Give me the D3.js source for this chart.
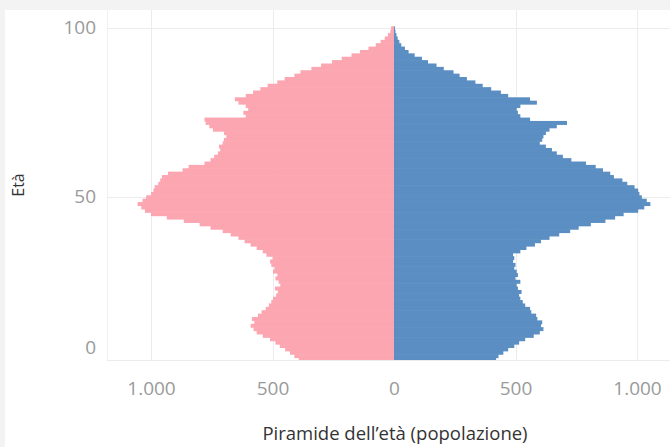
<!DOCTYPE html>
<html>
<head>
<meta charset="utf-8">
<script src="https://cdn.jsdelivr.net/npm/d3@7"></script>
<style>
  html, body { margin: 0; padding: 0; background: #f3f3f3; }
  svg { display: block; }
</style>
</head>
<body>
<svg id="chart" width="670" height="447"></svg>
<script>
// Ages 0..100
const ages = d3.range(0, 101);
// Women (left, pink)
const femmine = [
  372, 380, 392, 410, 428, 448, 470, 488, 510, 540,
  565, 578, 590, 575, 585, 560, 545, 528, 515, 505,
  498, 485, 478, 490, 468, 475, 488, 480, 498, 492,
  505, 510, 500, 525, 540, 565, 590, 615, 640, 672,
  705, 755, 800, 865, 935, 1000, 1025, 1040, 1055, 1035,
  1020, 1000, 990, 985, 970, 962, 955, 930, 870, 845,
  780, 755, 740, 725, 715, 720, 705, 700, 690, 700,
  745, 760, 775, 780, 610, 620, 600, 610, 640, 655,
  610, 580, 550, 520, 480, 450, 410, 385, 340, 300,
  255, 215, 175, 140, 105, 75, 55, 38, 25, 15,
  12
];
// Men (right, blue)
const maschi = [
  395, 405, 420, 430, 450, 470, 495, 515, 540, 575,
  600, 615, 605, 610, 590, 585, 565, 560, 540, 530,
  520, 515, 525, 510, 505, 520, 500, 510, 505, 495,
  500, 490, 495, 490, 520, 545, 580, 605, 640, 680,
  725, 760, 810, 870, 910, 945, 1005, 1030, 1055, 1040,
  1020, 1010, 1005, 990, 960, 940, 905, 890, 860, 830,
  790, 730, 695, 670, 650, 625, 600, 610, 615, 625,
  640, 670, 712, 560, 520, 510, 505, 520, 588, 560,
  470, 440, 400, 365, 335, 300, 270, 245, 205, 175,
  140, 115, 85, 60, 45, 30, 22, 15, 10, 6,
  4
];
const xTicks = [-1000, -500, 0, 500, 1000];
const yTicks = [0, 50, 100];
const xTitle = "Piramide dell’età (popolazione)";
const yTitle = "Età";

const svg = d3.select("#chart");
const W = 670, H = 447;
const pane = { left: 107, right: 670, top: 10, bottom: 360 };

// white panel
svg.append("rect").attr("x", 5).attr("y", 10).attr("width", W - 5).attr("height", H - 10).attr("fill", "#ffffff");

const x = d3.scaleLinear().domain([-1000, 1000]).range([151, 637]);
const y = d3.scaleLinear().domain([0, 100]).range([366, 28]);

const it = d3.formatLocale({ decimal: ",", thousands: ".", grouping: [3], currency: ["€", ""] });
const fmt = it.format(",d");

svg.append("defs").append("clipPath").attr("id", "pane")
  .append("rect").attr("x", pane.left).attr("y", pane.top)
  .attr("width", pane.right - pane.left).attr("height", pane.bottom - pane.top);

// gridlines
const grid = svg.append("g").attr("clip-path", "url(#pane)");
grid.selectAll("line.h").data(yTicks).join("line")
  .attr("x1", pane.left).attr("x2", pane.right)
  .attr("y1", d => Math.round(y(d)) + 0.5).attr("y2", d => Math.round(y(d)) + 0.5)
  .attr("stroke", "#ececec").attr("stroke-width", 1);
svg.selectAll("line.v").data(xTicks.filter(d => d !== 0)).join("line")
  .attr("x1", d => Math.round(x(d)) + 0.5).attr("x2", d => Math.round(x(d)) + 0.5)
  .attr("y1", pane.top).attr("y2", pane.bottom)
  .attr("stroke", "#ececec").attr("stroke-width", 1);
// pane left border
svg.append("line").attr("x1", pane.left + 0.5).attr("x2", pane.left + 0.5)
  .attr("y1", pane.top).attr("y2", pane.bottom).attr("stroke", "#f0f0f0");

// bars
const bars = svg.append("g").attr("clip-path", "url(#pane)");
const bandTop = a => y(a + 0.5);
const bandH = a => y(a - 0.5) - y(a + 0.5) + 0.6;
bars.selectAll("rect.f").data(ages).join("rect")
  .attr("x", a => x(-femmine[a]))
  .attr("width", a => x(0) - x(-femmine[a]))
  .attr("y", bandTop).attr("height", bandH)
  .attr("fill", "#fca6b1");
bars.selectAll("rect.m").data(ages).join("rect")
  .attr("x", x(0))
  .attr("width", a => x(maschi[a]) - x(0))
  .attr("y", bandTop).attr("height", bandH)
  .attr("fill", "#5b8ec2");

// bottom line of pane
svg.append("line").attr("x1", pane.left).attr("x2", pane.right)
  .attr("y1", pane.bottom + 0.5).attr("y2", pane.bottom + 0.5).attr("stroke", "#ececec");

const tickFont = "'Open Sans', 'DejaVu Sans', sans-serif";

// y axis
const yAxis = svg.append("g").attr("transform", `translate(96,0)`)
  .call(d3.axisLeft(y).tickValues(yTicks).tickSize(0).tickPadding(0).tickFormat(d3.format("d")));
yAxis.select(".domain").remove();
yAxis.selectAll("text").attr("fill", "#9a9a9a").style("font-family", tickFont).style("font-size", "19px");
// keep the bottom label inside the pane (as the original does)
yAxis.selectAll(".tick").attr("transform", d => {
  let ty = y(d);
  if (ty > pane.bottom - 12) ty = pane.bottom - 12;
  return `translate(0,${ty})`;
});

// x axis
const xAxis = svg.append("g").attr("transform", `translate(0,381)`)
  .call(d3.axisBottom(x).tickValues(xTicks).tickSize(0).tickPadding(0).tickFormat(d => fmt(Math.abs(d))));
xAxis.select(".domain").remove();
xAxis.selectAll("text").attr("fill", "#9a9a9a").style("font-family", tickFont).style("font-size", "19px");

// titles
svg.append("text").attr("x", 395).attr("y", 440).attr("text-anchor", "middle")
  .attr("fill", "#333").style("font-family", tickFont).style("font-size", "18.5px").text(xTitle);
svg.append("text").attr("transform", "translate(24,185) rotate(-90)").attr("text-anchor", "middle")
  .attr("fill", "#333").style("font-family", tickFont).style("font-size", "16px").text(yTitle);
</script>
</body>
</html>
